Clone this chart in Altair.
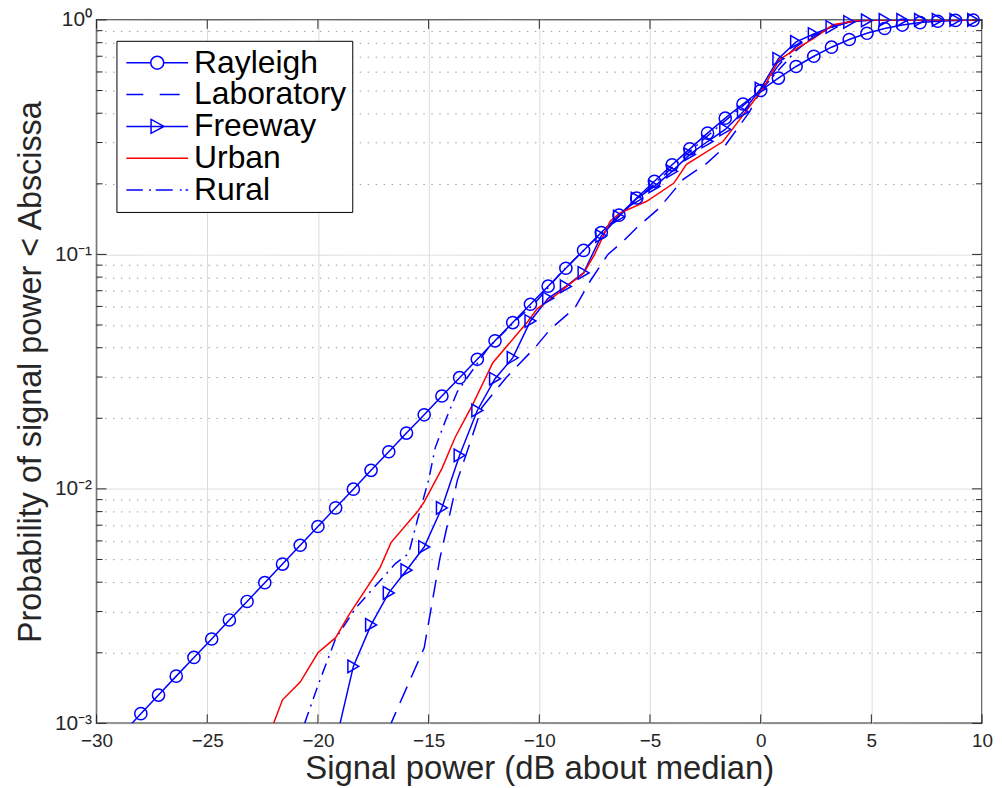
import altair as alt
import pandas as pd

# ---------------- data ----------------
SERIES = ["Rayleigh", "Laboratory", "Freeway", "Urban", "Rural"]

RAY_X = [-28.8, -28.0, -27.2, -26.4, -25.6, -24.8, -24.0, -23.2, -22.4, -21.6, -20.8,
         -20.0, -19.2, -18.4, -17.6, -16.8, -16.0, -15.2, -14.4, -13.6, -12.8, -12.0,
         -11.2, -10.4, -9.6, -8.8, -8.0, -7.2, -6.4, -5.6, -4.8, -4.0, -3.2, -2.4,
         -1.6, -0.8, 0.0, 0.8, 1.6, 2.4, 3.2, 4.0, 4.8, 5.6, 6.4, 7.2, 8.0, 8.8, 9.6]
RAY_P = [0.00091, 0.0011, 0.00132, 0.00159, 0.00191, 0.00229, 0.00276, 0.00331, 0.00398,
         0.00478, 0.00575, 0.00691, 0.0083, 0.00997, 0.0120, 0.0144, 0.0173, 0.0207,
         0.0249, 0.0298, 0.0357, 0.0428, 0.0512, 0.0613, 0.0732, 0.0873, 0.104, 0.124,
         0.147, 0.174, 0.205, 0.241, 0.282, 0.329, 0.381, 0.438, 0.50, 0.565, 0.633,
         0.700, 0.765, 0.825, 0.877, 0.919, 0.951, 0.974, 0.987, 0.995, 0.998]

LAB_X = [-16.8, -15.2, -14.5, -13.7, -13.2, -12.6, -11.5, -10.2, -9.5, -8.4, -7.7, -6.9,
         -6.2, -5.6, -4.6, -3.5, -2.45, -1.7, -0.5, 0.0, 0.8, 1.6, 2.4, 3.2, 4.0, 4.8, 10.0]
LAB_P = [0.00095, 0.0021, 0.005, 0.0109, 0.015, 0.0222, 0.0298, 0.040, 0.048, 0.059, 0.077,
         0.100, 0.114, 0.130, 0.157, 0.209, 0.244, 0.283, 0.406, 0.50, 0.64, 0.77, 0.86,
         0.93, 0.985, 1.0, 1.0]

FWY_X = [-19.0, -18.4, -17.6, -16.8, -16.0, -15.2, -14.4, -13.6, -12.8, -12.0, -11.2,
         -10.4, -9.6, -8.8, -8.0, -7.2, -6.4, -5.6, -4.8, -4.0, -3.2, -2.4, -1.6, -0.8,
         0.0, 0.8, 1.6, 2.4, 3.2, 4.0, 4.8, 5.6, 6.4, 7.2, 8.0, 8.8, 9.6]
FWY_P = [0.001, 0.00175, 0.00263, 0.0036, 0.0045, 0.00565, 0.0083, 0.0139, 0.0216, 0.0295,
         0.0362, 0.052, 0.065, 0.073, 0.0834, 0.12, 0.145, 0.173, 0.195, 0.226, 0.267,
         0.303, 0.341, 0.405, 0.509, 0.683, 0.806, 0.871, 0.933, 0.98, 0.995, 1.0, 1.0,
         1.0, 1.0, 1.0, 1.0]

URB_X = [-22.0, -21.6, -20.8, -20.0, -19.2, -18.6, -17.2, -16.7, -15.5, -15.2, -14.4,
         -13.8, -13.0, -12.1, -10.5, -10.1, -9.3, -8.6, -8.0, -7.5, -6.8, -6.36, -5.15,
         -3.93, -3.35, -1.7, -1.2, -0.34, 0.1, 0.83, 1.6, 2.36, 3.26, 4.0, 4.6, 10.0]
URB_P = [0.001, 0.00126, 0.0015, 0.0020, 0.00232, 0.0029, 0.0046, 0.0059, 0.0080, 0.0088,
         0.0122, 0.0166, 0.023, 0.0345, 0.052, 0.0586, 0.0665, 0.075, 0.083, 0.100,
         0.1386, 0.150, 0.1685, 0.201, 0.242, 0.303, 0.350, 0.448, 0.509, 0.676, 0.753,
         0.830, 0.953, 0.980, 1.0, 1.0]

RUR_X = [-20.6, -20.0, -19.2, -18.3, -16.5, -15.9, -15.5, -15.0, -14.7, -14.2, -13.7,
         -12.3, -11.1, -10.2, -9.0, -8.0, -7.2, -6.0, -4.8, -3.2, -2.0, -1.0, 0.0, 0.8,
         1.6, 2.4, 3.2, 4.0, 5.0, 10.0]
RUR_P = [0.001, 0.00145, 0.0023, 0.0031, 0.0048, 0.0053, 0.0074, 0.0109, 0.015, 0.020,
         0.026, 0.040, 0.052, 0.062, 0.084, 0.104, 0.123, 0.158, 0.200, 0.275, 0.345,
         0.415, 0.50, 0.61, 0.74, 0.85, 0.93, 0.98, 1.0, 1.0]

X_TICKS = [-30, -25, -20, -15, -10, -5, 0, 5, 10]
Y_MAJOR = [0.001, 0.01, 0.1, 1.0]
Y_MINOR = [0.002, 0.003, 0.004, 0.005, 0.006, 0.007, 0.008, 0.009,
           0.02, 0.03, 0.04, 0.05, 0.06, 0.07, 0.08, 0.09,
           0.2, 0.3, 0.4, 0.5, 0.6, 0.7, 0.8, 0.9]

# ---------------- styling ----------------
W, H = 890, 707
FONT = "Liberation Sans"
TXT = "#262626"
BLUE = "#0000ff"
RED = "#ff0000"
LW = 1.5

COLORS = [BLUE, BLUE, BLUE, RED, BLUE]
# legend symbols: 1 unit = 10 px (symbolSize 400)
LEGEND_PATHS = [
    "M-3.1,0L-0.65,0M0.65,0L3.1,0M0.65,0A0.65,0.65,0,1,1,-0.65,0A0.65,0.65,0,1,1,0.65,0",
    "M-3.1,0L-1.4,0M0.25,0L2.25,0",
    "M-3.1,0L3.1,0M-0.62,-0.7L0.68,0L-0.62,0.7Z",
    "M-3.1,0L3.1,0",
    "M-3.1,0L-1.45,0M-0.82,0L-0.64,0M-0.15,0L1.55,0M2.27,0L2.45,0M2.85,0L3.1,0",
]

xs = alt.Scale(domain=[-30, 10], nice=False, zero=False)
ys = alt.Scale(type="log", domain=[0.001, 1], nice=False)

MAJ = "abs(log(datum.value)/LN10 - round(log(datum.value)/LN10)) < 0.001"
YLAB = ("abs(datum.value-1) < 1e-6 ? '10\u2070' : abs(datum.value-0.1) < 1e-7 ? '10\u207b\u00b9' : "
        "abs(datum.value-0.01) < 1e-8 ? '10\u207b\u00b2' : abs(datum.value-0.001) < 1e-9 ? '10\u207b\u00b3' : ''")

x_axis = alt.Axis(values=X_TICKS, grid=True, gridColor="#dcdcdc", gridWidth=1,
                  domain=False, ticks=False, labelFlush=False,
                  labelFont=FONT, labelFontSize=19, labelColor=TXT, labelPadding=8,
                  title="Signal power (dB about median)", titleFont=FONT,
                  titleFontSize=33, titleFontWeight="normal", titleColor=TXT,
                  titlePadding=2)
y_axis = alt.Axis(values=Y_MAJOR + Y_MINOR, grid=True,
                  gridColor={"condition": {"test": MAJ, "value": "#dcdcdc"}, "value": "#9a9a9a"},
                  gridDash={"condition": {"test": MAJ, "value": [1, 0]}, "value": [1.5, 6.5]},
                  gridWidth=1, domain=False, ticks=False, labelOverlap=False,
                  labelFlush=False, labelExpr=YLAB, labelOffset=0,
                  labelFont=FONT, labelFontSize=21, labelColor=TXT, labelPadding=5,
                  title="Probability of signal power < Abscissa", titleFont=FONT,
                  titleFontSize=32.5, titleFontWeight="normal", titleColor=TXT,
                  titlePadding=7)


def df(xv, pv):
    return pd.DataFrame({"x": xv, "p": pv})


def line(xv, pv, color, dash=None, axes=False):
    kw = dict(clip=True, color=color, strokeWidth=LW)
    if dash:
        kw["strokeDash"] = dash
    if axes:
        enc = dict(x=alt.X("x:Q", scale=xs, axis=x_axis), y=alt.Y("p:Q", scale=ys, axis=y_axis))
    else:
        enc = dict(x=alt.X("x:Q", scale=xs), y=alt.Y("p:Q", scale=ys))
    return alt.Chart(df(xv, pv)).mark_line(**kw).encode(**enc)


ray_line = line(RAY_X, RAY_P, BLUE, axes=True)
ray_pts = alt.Chart(df(RAY_X[1:], RAY_P[1:])).mark_point(
    shape="circle", filled=False, color=BLUE, size=150, strokeWidth=LW, opacity=1
).encode(x=alt.X("x:Q", scale=xs), y=alt.Y("p:Q", scale=ys))
lab_line = line(LAB_X, LAB_P, BLUE, dash=[18, 10])
fwy_line = line(FWY_X, FWY_P, BLUE)
fwy_pts = alt.Chart(df(FWY_X[1:], FWY_P[1:])).mark_point(
    shape="triangle-right", filled=False, color=BLUE, size=160, strokeWidth=LW, opacity=1
).encode(x=alt.X("x:Q", scale=xs), y=alt.Y("p:Q", scale=ys))
urb_line = line(URB_X, URB_P, RED)
rur_line = line(RUR_X, RUR_P, BLUE, dash=[12, 6, 2, 6])

# inward tick marks on all four sides
xt = pd.DataFrame({"x": X_TICKS})
ymaj = pd.DataFrame({"p": Y_MAJOR})
ymin = pd.DataFrame({"p": Y_MINOR})
tick_kw = dict(color=TXT, strokeWidth=1)
ticks = [
    alt.Chart(xt).mark_rule(**tick_kw).encode(x=alt.X("x:Q", scale=xs), y=alt.value(H), y2=alt.value(H - 9)),
    alt.Chart(xt).mark_rule(**tick_kw).encode(x=alt.X("x:Q", scale=xs), y=alt.value(0), y2=alt.value(9)),
    alt.Chart(ymaj).mark_rule(**tick_kw).encode(y=alt.Y("p:Q", scale=ys), x=alt.value(0), x2=alt.value(10)),
    alt.Chart(ymaj).mark_rule(**tick_kw).encode(y=alt.Y("p:Q", scale=ys), x=alt.value(W), x2=alt.value(W - 10)),
    alt.Chart(ymin).mark_rule(**tick_kw).encode(y=alt.Y("p:Q", scale=ys), x=alt.value(0), x2=alt.value(6)),
    alt.Chart(ymin).mark_rule(**tick_kw).encode(y=alt.Y("p:Q", scale=ys), x=alt.value(W), x2=alt.value(W - 6)),
]

# legend carrier (invisible marks, visible legend)
leg = alt.Legend(orient="none", legendX=20, legendY=21, title=None,
                 labelFont=FONT, labelFontSize=32, labelColor="black", labelLimit=0,
                 symbolSize=400, symbolStrokeWidth=LW, symbolOpacity=1,
                 symbolOffset=19, labelOffset=21,
                 strokeColor="black", fillColor="white", padding=6,
                 rowPadding=0)
leg_layer = alt.Chart(pd.DataFrame({"series": SERIES})).mark_point(filled=False).encode(
    x=alt.value(0), y=alt.value(0),
    opacity=alt.value(0),
    color=alt.Color("series:N", scale=alt.Scale(domain=SERIES, range=COLORS), legend=leg),
    shape=alt.Shape("series:N", scale=alt.Scale(domain=SERIES, range=LEGEND_PATHS), legend=leg),
)

chart = alt.layer(
    ray_line, lab_line, fwy_line, rur_line, urb_line, ray_pts, fwy_pts, *ticks, leg_layer
).properties(
    width=W, height=H,
    autosize=alt.AutoSizeParams(type="none"),
    padding={"left": 89, "top": 10, "right": 12, "bottom": 64},
    background="white",
).configure_view(stroke=TXT, strokeWidth=1.5)

chart.save("out.html", embed_options={"renderer": "svg", "actions": False})
